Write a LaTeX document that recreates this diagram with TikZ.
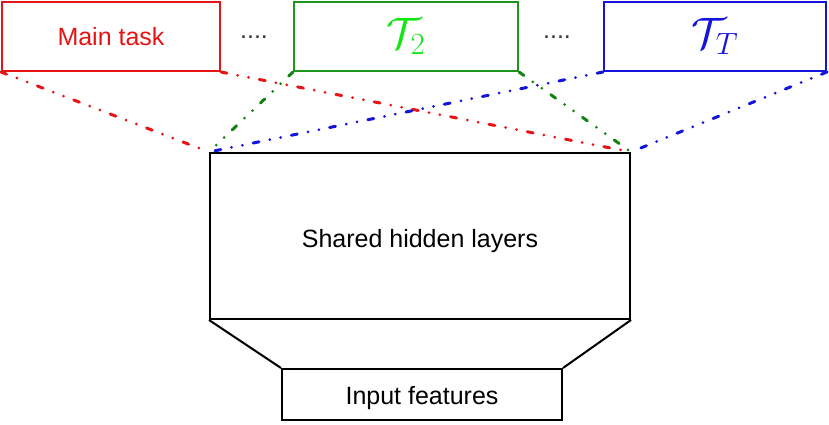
\RequirePackage{fix-cm}
\documentclass[tikz,border=0pt]{standalone}
\usepackage{fontspec}
\setmainfont{Liberation Sans}
\begin{document}
\begin{tikzpicture}[x=1pt,y=-1pt,
  box/.style={draw,line width=2pt,minimum height=69pt,inner sep=0pt,font=\fontsize{25}{30}\selectfont},
  link/.style={line width=3pt,line cap=round,dash pattern=on 6pt off 11pt on 0pt off 11pt on 0pt off 11pt},
  mathlbl/.style={font=\fontsize{44}{50}\selectfont},
  dots/.style={font=\fontsize{25}{30}\selectfont,text=black!80,anchor=base}]
\useasboundingbox (0,0) rectangle (829,425);
\definecolor{cred}{RGB}{230,20,20}
\definecolor{cgreenb}{RGB}{30,150,30}
\definecolor{cgreent}{RGB}{20,230,20}
\definecolor{cgreenl}{RGB}{20,130,20}
\definecolor{cblue}{RGB}{20,20,220}
\node[box,draw=cred,text=cred,minimum width=218pt,text height=18pt,text depth=0pt] (main) at (111,36.5) {Main task};
\node[box,draw=cgreenb,text=cgreent,minimum width=224pt,mathlbl] (t2) at (406,36.5) {$\mathcal{T}_2$};
\node[box,draw=cblue,text=cblue,minimum width=222pt,mathlbl] (tt) at (715,36.5) {$\mathcal{T}_T$};
\node[dots] (d1) at (254,39) {....};
\node[dots] (d2) at (557,39) {....};
\node[draw,line width=2pt,minimum width=420pt,minimum height=166pt,inner sep=0pt,text height=22pt,text depth=0pt,font=\fontsize{25}{30}\selectfont] (shared) at (420,236) {Shared hidden layers};
\node[draw,line width=2pt,minimum width=280pt,minimum height=51pt,inner sep=0pt,text height=20pt,text depth=0pt,font=\fontsize{25}{30}\selectfont] (input) at (422,394.5) {Input features};
\draw[line width=2pt] (shared.south west) -- (input.north west);
\draw[line width=2pt] (shared.south east) -- (input.north east);
\draw[link,cred] (main.south west) -- (shared.north west);
\draw[link,cred] (main.south east) -- (shared.north east);
\draw[link,cgreenl] (t2.south west) -- (shared.north west);
\draw[link,cgreenl] (t2.south east) -- (shared.north east);
\draw[link,cblue] (tt.south west) -- (shared.north west);
\draw[link,cblue] (tt.south east) -- (shared.north east);
\end{tikzpicture}
\end{document}
